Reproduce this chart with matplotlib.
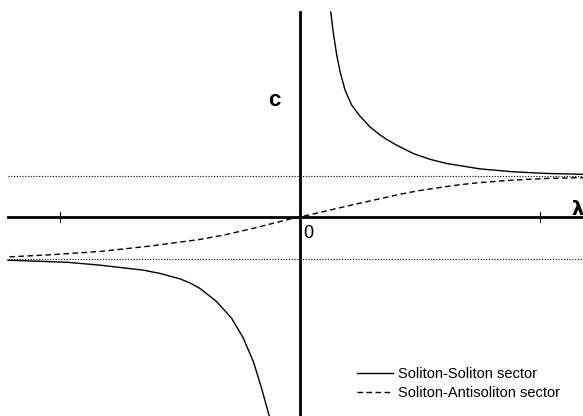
import numpy as np
import matplotlib.pyplot as plt

plt.rcParams['font.family'] = ['Liberation Sans', 'DejaVu Sans']

# values
lam_ss_r = [0.128, 0.139, 0.153, 0.167, 0.1875, 0.215, 0.25, 0.292, 0.333, 0.361,
            0.403, 0.472, 0.542, 0.611, 0.75, 0.889, 1.028, 1.179]
c_ss_r = [4.94, 4.43, 3.90, 3.50, 3.06, 2.70, 2.43, 2.17, 1.98, 1.87,
          1.73, 1.53, 1.39, 1.29, 1.16, 1.09, 1.05, 1.03]

lam_ss_l = [-1.217, -0.972, -0.833, -0.653, -0.583, -0.5, -0.458, -0.417, -0.347, -0.285,
            -0.236, -0.194, -0.16, -0.128, -0.125]
c_ss_l = [-1.04, -1.09, -1.16, -1.28, -1.36, -1.49, -1.59, -1.72, -2.04, -2.44,
          -2.92, -3.49, -4.13, -4.80, -4.85]

lam_sa = [-1.211, -1.042, -0.833, -0.625, -0.417, -0.313, -0.208, -0.028, 0.0, 0.208, 0.333,
          0.417, 0.5, 0.611, 0.667, 0.75, 0.888, 1.028, 1.179]
c_sa = [-0.96, -0.91, -0.83, -0.70, -0.54, -0.43, -0.29, -0.03, 0.0, 0.28, 0.44,
        0.55, 0.64, 0.735, 0.78, 0.83, 0.89, 0.93, 0.95]

asymptotes = [1.0, -1.0]
ticks = [-1.0, 1.0]

fig = plt.figure(figsize=(5.83, 4.16), dpi=100)
ax = fig.add_axes([0, 0, 1, 1])
ax.set_xlim(-1.25, 1.179)
ax.set_ylim(-4.795, 5.23)
ax.axis('off')

x0, x1 = -1.217, 1.179
# axes drawn by hand
ax.plot([x0, x1], [0, 0], color='black', lw=2)
ax.plot([0, 0], [-4.8, 4.94], color='black', lw=2)
for t in ticks:
    ax.plot([t, t], [-0.13, 0.13], color='black', lw=0.8)

for a in asymptotes:
    ax.plot([x0, x1], [a, a], color='black', lw=0.8, linestyle=(0, (1, 1.5)))

ax.plot(lam_ss_r, c_ss_r, color='black', lw=1, label='Soliton-Soliton sector')
ax.plot(lam_ss_l, c_ss_l, color='black', lw=1)
ax.plot(lam_sa, c_sa, color='black', lw=1, linestyle=(0, (4, 2.5)),
        label='Soliton-Antisoliton sector')

ax.text(-0.108, 2.80, 'c', fontsize=16, fontweight='bold', ha='center', va='center')
ax.text(1.155, 0.19, 'λ', fontsize=14, fontweight='bold', ha='center', va='center',
        family=['DejaVu Sans'])
ax.text(0.014, -0.19, '0', fontsize=13, ha='left', va='top')

ax.legend(loc='lower left', bbox_to_anchor=(0.599, 0.02), frameon=False, fontsize=10.5,
          handlelength=2.5, handletextpad=0.35, labelspacing=0.35, borderpad=0)

fig.savefig('out.png', dpi=100)
